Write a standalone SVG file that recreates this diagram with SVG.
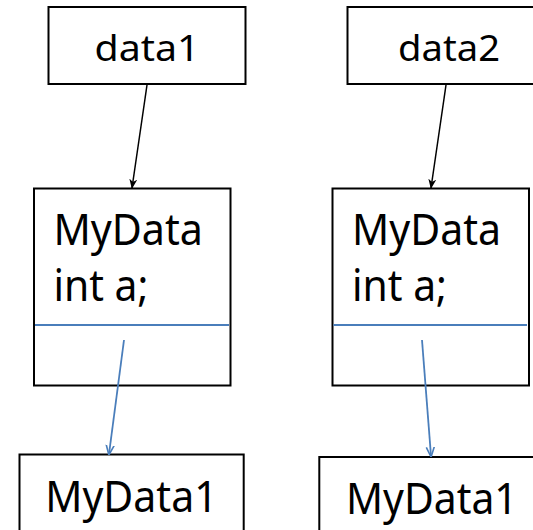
<svg xmlns="http://www.w3.org/2000/svg" width="533" height="530" viewBox="0 0 533 530">
<defs>
<style>
.box{fill:#fff;stroke:#000;stroke-width:2}
.t{font-family:"Noto Sans","Liberation Sans",sans-serif;fill:#000}
.div{stroke:#4a7ebb;stroke-width:1.8}
.ab{stroke:#000;stroke-width:1.5;fill:none}
.au{stroke:#4a7ebb;stroke-width:1.8;fill:none}
</style>
<marker id="mb" viewBox="0 0 10 10" refX="9" refY="5" markerWidth="10" markerHeight="10" markerUnits="userSpaceOnUse" orient="auto">
<path d="M0,1 L10,5 L0,9 L3,5 Z" fill="#000"/>
</marker>
<marker id="mu" viewBox="0 0 10 10" refX="9" refY="5" markerWidth="10" markerHeight="10" markerUnits="userSpaceOnUse" orient="auto">
<path d="M0,1 L10,5 L0,9" fill="none" stroke="#4a7ebb" stroke-width="1.6"/>
</marker>
</defs>
<rect width="533" height="530" fill="#fff"/>
<g id="data1">
<rect class="box" x="48.5" y="7" width="197" height="77"/>
<text class="t" x="94.6" y="61" font-size="37" textLength="105" lengthAdjust="spacingAndGlyphs">data1</text>
</g>
<g id="data2">
<rect class="box" x="347.5" y="7" width="200" height="77"/>
<text class="t" x="398" y="61" font-size="37" textLength="102" lengthAdjust="spacingAndGlyphs">data2</text>
</g>
<g id="mydata-a">
<rect class="box" x="34" y="188.5" width="196.5" height="197"/>
<line class="div" x1="35" y1="325" x2="229" y2="325"/>
<text class="t" x="53.4" y="244.6" font-size="43" textLength="149.6" lengthAdjust="spacingAndGlyphs">MyData</text>
<text class="t" x="53.4" y="300.7" font-size="43" textLength="95" lengthAdjust="spacingAndGlyphs">int a;</text>
</g>
<g id="mydata-b">
<rect class="box" x="332.5" y="188.5" width="196.5" height="197"/>
<line class="div" x1="333.5" y1="325" x2="527" y2="325"/>
<text class="t" x="352" y="244.6" font-size="43" textLength="149" lengthAdjust="spacingAndGlyphs">MyData</text>
<text class="t" x="352" y="300.7" font-size="43" textLength="95" lengthAdjust="spacingAndGlyphs">int a;</text>
</g>
<g id="mydata1-a">
<rect class="box" x="19.5" y="454.5" width="224.2" height="90"/>
<text class="t" x="45.2" y="511.6" font-size="43.5" textLength="172.5" lengthAdjust="spacingAndGlyphs">MyData1</text>
</g>
<g id="mydata1-b">
<rect class="box" x="319.3" y="457" width="240" height="90"/>
<text class="t" x="346" y="513.5" font-size="43.5" textLength="171.7" lengthAdjust="spacingAndGlyphs">MyData1</text>
</g>
<g id="connectors">
<line class="ab" x1="147" y1="85" x2="132" y2="188" marker-end="url(#mb)"/>
<line class="ab" x1="446" y1="85" x2="431" y2="188" marker-end="url(#mb)"/>
<line class="au" x1="124" y1="340" x2="109" y2="454" marker-end="url(#mu)"/>
<line class="au" x1="422" y1="340" x2="431" y2="456" marker-end="url(#mu)"/>
</g>
</svg>
